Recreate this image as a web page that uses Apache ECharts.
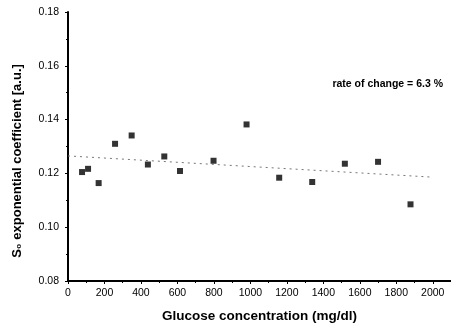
<!DOCTYPE html>
<html>
<head>
<meta charset="utf-8">
<script src="https://cdn.jsdelivr.net/npm/echarts@6/dist/echarts.min.js"></script>
<style>
  html, body { margin: 0; padding: 0; background: #fff; }
  #chart { width: 451px; height: 326px; }
</style>
</head>
<body>
<div id="chart"></div>
<script>
// glucose concentration (mg/dl) and S0 exponential coefficient
const glucose = [77, 110, 168, 258, 349, 438, 528, 614, 798, 979, 1158, 1339, 1518, 1700, 1878];
const s0Coeff = [0.1205, 0.1217, 0.1164, 0.1310, 0.1341, 0.1233, 0.1263, 0.1209, 0.1247, 0.1382, 0.1184, 0.1168, 0.1236, 0.1243, 0.1085];
// linear fit end points
const fitX = [0, 2000];
const fitY = [0.1265, 0.1186];
const rateLabel = 'rate of change = 6.3 %';
const yTitle = 'S\u2080 exponential coefficient [a.u.]';
const xTitle = 'Glucose concentration (mg/dl)';

const chart = echarts.init(document.getElementById('chart'));
const font = 'Liberation Sans, Arial, sans-serif';

chart.setOption({
  animation: false,
  backgroundColor: '#fff',
  grid: { left: 68, right: 0, top: 12, bottom: 45, outerBoundsMode: 'none' },
  xAxis: {
    type: 'value',
    min: 0,
    max: 2100,
    interval: 200,
    name: xTitle,
    nameLocation: 'middle',
    nameGap: 28,
    nameTextStyle: { fontFamily: font, fontWeight: 'bold', fontSize: 13.5, color: '#000' },
    axisLine: { lineStyle: { color: '#000', width: 2 } },
    axisTick: { length: 3, lineStyle: { color: '#000' } },
    minorTick: { show: true, splitNumber: 2, length: 2, lineStyle: { color: '#000' } },
    axisLabel: {
      showMaxLabel: false, fontFamily: font, fontSize: 10.5, color: '#000', margin: 7,
      formatter: v => String(v)
    },
    splitLine: { show: false }
  },
  yAxis: {
    type: 'value',
    min: 0.08,
    max: 0.18,
    interval: 0.02,
    axisLine: { show: true, lineStyle: { color: '#000', width: 2 } },
    axisTick: { length: 3, lineStyle: { color: '#000' } },
    minorTick: { show: true, splitNumber: 2, length: 2, lineStyle: { color: '#000' } },
    axisLabel: {
      fontFamily: font, fontSize: 10.5, color: '#000', margin: 9,
      formatter: v => v.toFixed(2)
    },
    splitLine: { show: false }
  },
  graphic: [
    {
      type: 'text',
      x: 17,
      y: 161,
      rotation: Math.PI / 2,
      style: {
        text: yTitle, font: 'bold 13px ' + font, fill: '#000',
        align: 'center', verticalAlign: 'middle'
      }
    },
    {
      type: 'text',
      right: 8,
      top: 79,
      style: { text: rateLabel, font: 'bold 10.5px ' + font, fill: '#000' }
    }
  ],
  series: [
    {
      type: 'line',
      data: fitX.map((x, i) => [x, fitY[i]]),
      showSymbol: false,
      lineStyle: { color: '#777', width: 1, type: [2, 4] },
      z: 1
    },
    {
      type: 'scatter',
      data: glucose.map((x, i) => [x, s0Coeff[i]]),
      symbol: 'rect',
      symbolSize: 6,
      itemStyle: { color: '#000' },
      z: 2
    }
  ]
});
</script>
</body>
</html>
